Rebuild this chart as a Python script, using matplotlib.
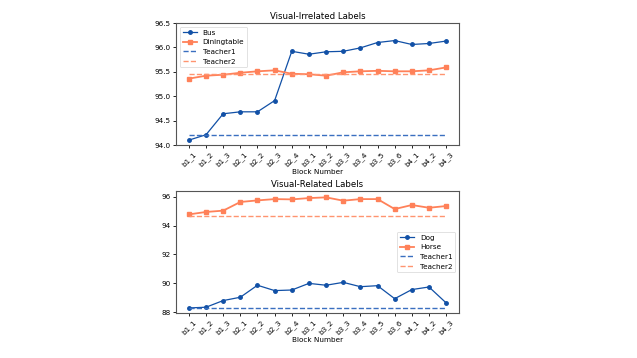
import numpy as np
import matplotlib
matplotlib.use("Agg")
import matplotlib.pyplot as plt

# Дані з графіка
blocks = ["b1_1", "b1_2", "b1_3", "b2_1", "b2_2", "b2_3", "b2_4", "b3_1",
          "b3_2", "b3_3", "b3_4", "b3_5", "b3_6", "b4_1", "b4_2", "b4_3"]

bus = [94.10, 94.21, 94.64, 94.68, 94.68, 94.91, 95.92, 95.86,
       95.91, 95.92, 95.99, 96.10, 96.14, 96.06, 96.08, 96.13]
diningtable = [95.36, 95.42, 95.44, 95.48, 95.51, 95.53, 95.46, 95.45,
               95.42, 95.49, 95.51, 95.52, 95.51, 95.51, 95.53, 95.59]
teacher1_top = 94.21
teacher2_top = 95.45

dog = [88.30, 88.35, 88.81, 89.04, 89.87, 89.50, 89.54, 90.00,
       89.87, 90.07, 89.77, 89.84, 88.94, 89.57, 89.75, 88.65]
horse = [94.77, 94.94, 95.03, 95.63, 95.74, 95.83, 95.81, 95.90,
         95.95, 95.72, 95.83, 95.83, 95.14, 95.42, 95.23, 95.35]
teacher1_bot = 88.30
teacher2_bot = 94.68

BLUE = "#1150a6"
ORANGE = "#ff8159"
BLUE_T = "#3a6fc0"
ORANGE_T = "#ff9470"

fig = plt.figure(figsize=(6.37, 3.58), dpi=100)
ax1 = fig.add_axes([176 / 637, 1 - 145 / 358, 283 / 637, 122 / 358])
ax2 = fig.add_axes([176 / 637, 1 - 313 / 358, 283 / 637, 122 / 358])

x = np.arange(len(blocks))


def draw(ax, s1, s2, t1, t2, n1, n2, title, loc, bbox=None):
    ax.plot(x, s1, "-o", color=BLUE, markersize=2.5, linewidth=0.9, label=n1)
    ax.plot(x, s2, "-s", color=ORANGE, markersize=3, linewidth=1.3, label=n2)
    ax.plot(x, [t1] * len(x), "--", color=BLUE_T, linewidth=1, label="Teacher1")
    ax.plot(x, [t2] * len(x), "--", color=ORANGE_T, linewidth=1, label="Teacher2")
    ax.set_xticks(x)
    ax.set_xticklabels(blocks, rotation=45)
    ax.set_xlabel("Block Number", fontsize=5.2, labelpad=1)
    ax.set_title(title, fontsize=6.2, pad=3)
    ax.tick_params(labelsize=5.2, length=2.5, pad=1.5, width=0.6)
    for s in ax.spines.values():
        s.set_color("#555555")
        s.set_linewidth(0.8)
    if bbox is None:
        leg = ax.legend(loc=loc, fontsize=5.2)
    else:
        leg = ax.legend(loc=loc, bbox_to_anchor=bbox, fontsize=5.2)
    leg.get_frame().set_linewidth(0.5)


draw(ax1, bus, diningtable, teacher1_top, teacher2_top, "Bus", "Diningtable",
     "Visual-Irrelated Labels", "upper left")
ax1.set_ylim(94.0, 96.5)
ax1.set_yticks([94.0, 94.5, 95.0, 95.5, 96.0, 96.5])

draw(ax2, dog, horse, teacher1_bot, teacher2_bot, "Dog", "Horse",
     "Visual-Related Labels", "center right", (1.0, 0.5))
ax2.set_ylim(87.95, 96.39)
ax2.set_yticks([88, 90, 92, 94, 96])

fig.savefig("out.png", dpi=100)
